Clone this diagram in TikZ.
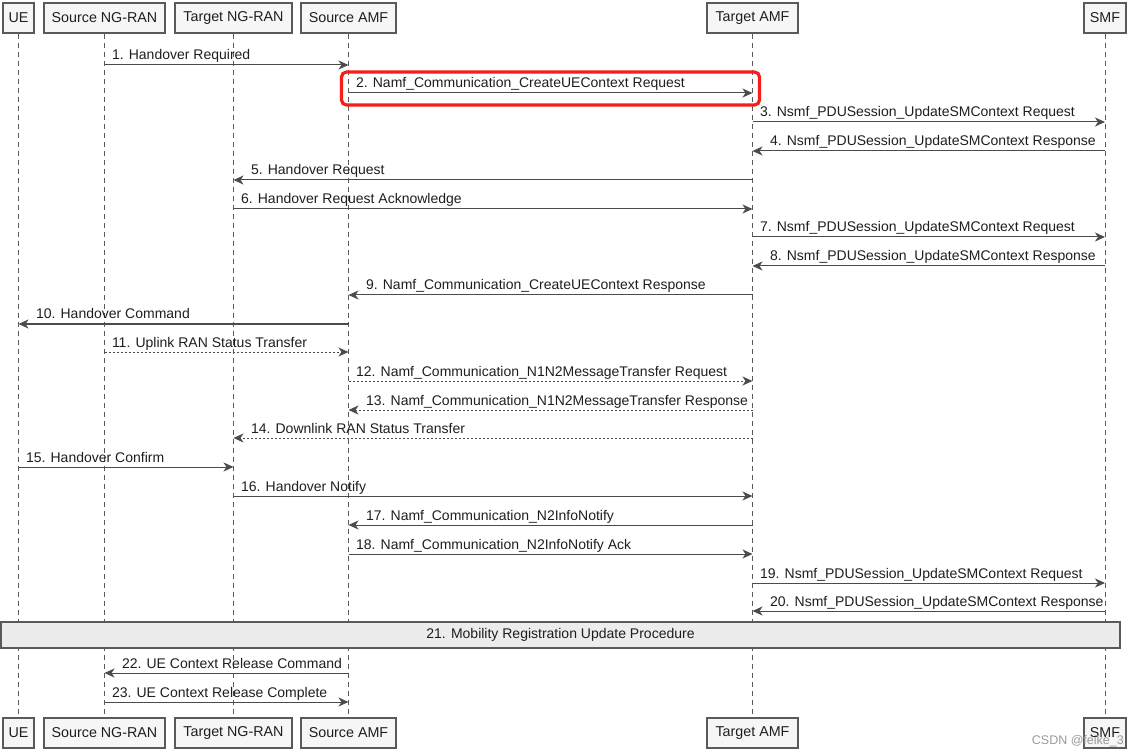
\documentclass[tikz,border=0pt]{standalone}
\usepackage{fontspec}
\setmainfont{Liberation Sans}
\usetikzlibrary{arrows.meta}
\definecolor{linec}{RGB}{90,90,90}
\definecolor{arrowc}{RGB}{75,75,75}
\definecolor{boxfill}{RGB}{246,246,246}
\definecolor{reffill}{RGB}{236,236,236}
\definecolor{textc}{RGB}{30,30,30}
\definecolor{hlred}{RGB}{245,30,25}
\tikzset{
  lifeline/.style={draw=linec, dash pattern=on 5pt off 4pt, line width=0.9pt},
  part/.style={draw=linec, fill=boxfill, line width=1.3pt, minimum height=30pt, inner sep=0pt,
    text=textc, font=\fontsize{14.3}{16}\selectfont},
  msg/.style={draw=arrowc, line width=1pt, -{Stealth[length=10pt,width=9pt,inset=3pt]}},
  dotmsg/.style={dash pattern=on 2pt off 2pt},
  lbl/.style={anchor=base west, yshift=5pt, inner sep=0pt, text=textc, font=\fontsize{14}{16}\selectfont},
  refbox/.style={draw=linec, fill=reffill, line width=1.3pt, inner sep=0pt, text=textc,
    font=\fontsize{14}{16}\selectfont},
  hlbox/.style={draw=hlred, line width=3.2pt, rounded corners=5pt, inner sep=0pt},
}
\newcommand\msgR[6][]{\draw[msg,#1] (#2 |- 0,#4) -- node[lbl,pos=0,xshift=7pt] (#6) {#5} (#3 |- 0,#4);}
\newcommand\msgL[6][]{\draw[msg,#1] (#2 |- 0,#4) -- node[lbl,pos=1,xshift=17pt] (#6) {#5} (#3 |- 0,#4);}
\begin{document}
\begin{tikzpicture}[x=1pt,y=-1pt]
\useasboundingbox (0,0) rectangle (1136,754);
% participants (top)
\node[part, minimum width=31pt]  (ue)   at (18.5,18)  {UE};
\node[part, minimum width=121pt] (sran) at (104.5,18) {Source NG-RAN};
\node[part, minimum width=117pt] (tran) at (233.5,18) {Target NG-RAN};
\node[part, minimum width=95pt]  (samf) at (348.5,18) {Source AMF};
\node[part, minimum width=91pt]  (tamf) at (752.5,18) {Target AMF};
\node[part, minimum width=42pt]  (smf)  at (1105,18)  {SMF};
% participants (bottom)
\node[part, minimum width=31pt]  (ueB)   at (18.5,733)  {UE};
\node[part, minimum width=121pt] (sranB) at (104.5,733) {Source NG-RAN};
\node[part, minimum width=117pt] (tranB) at (233.5,733) {Target NG-RAN};
\node[part, minimum width=95pt]  (samfB) at (348.5,733) {Source AMF};
\node[part, minimum width=91pt]  (tamfB) at (752.5,733) {Target AMF};
\node[part, minimum width=42pt]  (smfB)  at (1105,733)  {SMF};
% lifelines
\foreach \a in {ue,sran,tran,samf,tamf,smf}{
  \draw[lifeline] (\a.south) -- (\a B.north);
}
% messages
\msgR{sran}{samf}{65}{1. Handover Required}{l1}
\msgR{samf}{tamf}{93}{2. Namf\_Communication\_CreateUEContext Request}{l2}
\msgR{tamf}{smf}{122}{3. Nsmf\_PDUSession\_UpdateSMContext Request}{l3}
\msgL{smf}{tamf}{151}{4. Nsmf\_PDUSession\_UpdateSMContext Response}{l4}
\msgL{tamf}{tran}{180}{5. Handover Request}{l5}
\msgR{tran}{tamf}{209}{6. Handover Request Acknowledge}{l6}
\msgR{tamf}{smf}{237}{7. Nsmf\_PDUSession\_UpdateSMContext Request}{l7}
\msgL{smf}{tamf}{266}{8. Nsmf\_PDUSession\_UpdateSMContext Response}{l8}
\msgL{tamf}{samf}{295}{9. Namf\_Communication\_CreateUEContext Response}{l9}
\msgL{samf}{ue}{324}{10. Handover Command}{l10}
\msgR[dotmsg]{sran}{samf}{352}{11. Uplink RAN Status Transfer}{l11}
\msgR[dotmsg]{samf}{tamf}{381}{12. Namf\_Communication\_N1N2MessageTransfer Request}{l12}
\msgL[dotmsg]{tamf}{samf}{410}{13. Namf\_Communication\_N1N2MessageTransfer Response}{l13}
\msgL[dotmsg]{tamf}{tran}{438}{14. Downlink RAN Status Transfer}{l14}
\msgR{ue}{tran}{467}{15. Handover Confirm}{l15}
\msgR{tran}{tamf}{496}{16. Handover Notify}{l16}
\msgL{tamf}{samf}{525}{17. Namf\_Communication\_N2InfoNotify}{l17}
\msgR{samf}{tamf}{554}{18. Namf\_Communication\_N2InfoNotify Ack}{l18}
\msgR{tamf}{smf}{583}{19. Nsmf\_PDUSession\_UpdateSMContext Request}{l19}
\msgL{smf}{tamf}{611}{20. Nsmf\_PDUSession\_UpdateSMContext Response}{l20}
\node[refbox, minimum width=1119pt, minimum height=26pt] (r21) at (560.5,635) {21. Mobility Registration Update Procedure};
\msgL{samf}{sran}{673}{22. UE Context Release Command}{l22}
\msgR{sran}{samf}{702}{23. UE Context Release Complete}{l23}
% highlight
\node[hlbox, minimum width=418pt, minimum height=33pt] (hl) at (550.5,88.5) {};
% watermark
\node[anchor=base east, inner sep=0pt, text=black!40, font=\fontsize{12.5}{14}\selectfont] (wm) at (1124,744) {CSDN @feike\_3};
\end{tikzpicture}
\end{document}
